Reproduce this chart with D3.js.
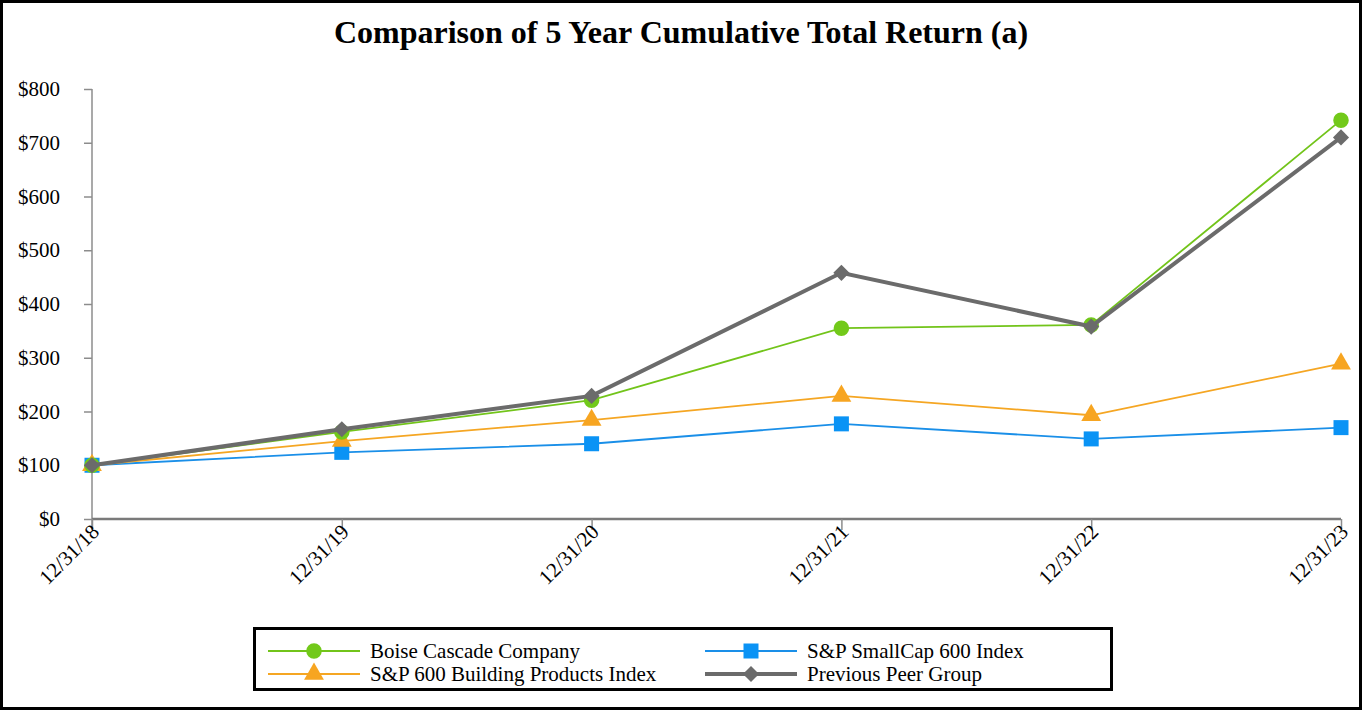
<!DOCTYPE html>
<html><head><meta charset="utf-8">
<script src="https://cdn.jsdelivr.net/npm/d3@7"></script>
<style>body{margin:0;background:#fff}svg{display:block}text{font-family:"Liberation Serif","Times New Roman",serif}</style>
</head><body><svg id="c" width="1362" height="710"></svg>
<script>
const categories = ["12/31/18","12/31/19","12/31/20","12/31/21","12/31/22","12/31/23"];
const boise = [100,162,221,355,361,742];
const smallcap = [100,124,140,177,149,170];
const building = [100,145,184,229,193,289];
const peer = [100,167,229,458,358,710];
const yTicks = [0,100,200,300,400,500,600,700,800];
const seriesNames = ["Boise Cascade Company","S&P SmallCap 600 Index","S&P 600 Building Products Index","Previous Peer Group"];

const svg = d3.select("#c");
svg.append("rect").attr("x",1.5).attr("y",1.5).attr("width",1359).attr("height",707).attr("fill","none").attr("stroke","#000").attr("stroke-width",3);
svg.append("text").attr("x",681).attr("y",43).attr("text-anchor","middle").attr("font-size",32).attr("font-weight","bold").text("Comparison of 5 Year Cumulative Total Return (a)");

const x = d3.scalePoint().domain(categories).range([92,1341]);
const y = d3.scaleLinear().domain([0,800]).range([519,89]);

// y axis
const ya = svg.append("g").attr("transform","translate(92,0)").call(d3.axisLeft(y).tickValues(yTicks).tickSize(8).tickPadding(24).tickFormat(d=>"$"+d));
ya.select(".domain").attr("stroke","#8c8c8c").attr("stroke-width",1.5).attr("d","M0,89V530");
ya.selectAll(".tick line").attr("stroke","#8c8c8c").attr("stroke-width",1.5);
ya.selectAll(".tick text").attr("font-size",21).attr("fill","#000").attr("font-family","Liberation Serif").attr("dy","0.32em");

// x axis
const xa = svg.append("g").attr("transform","translate(0,519)").call(d3.axisBottom(x).tickSize(11).tickPadding(6));
xa.select(".domain").attr("stroke","#7a7a7a").attr("stroke-width",2.5).attr("d","M92,0H1341");
xa.selectAll(".tick line").attr("stroke","#8c8c8c").attr("stroke-width",1.5);
xa.selectAll(".tick text").attr("font-size",21).attr("fill","#000").attr("font-family","Liberation Serif")
  .attr("text-anchor","end").attr("dy","0").attr("transform","translate(8,14) rotate(-45)").attr("y",0).attr("x",0);

const diamond = d3.symbolSquare;
const series = [
  {name:seriesNames[1], vals:smallcap, color:"#1a8fe8", mcolor:"#0a93f5", w:1.8, shape:d3.symbolSquare, size:225, rot:0},
  {name:seriesNames[2], vals:building, color:"#f5a623", mcolor:"#f7a521", w:1.8, shape:d3.symbolTriangle, size:170, rot:0},
  {name:seriesNames[0], vals:boise, color:"#72c41a", mcolor:"#72c91a", w:1.8, shape:d3.symbolCircle, size:190, rot:0},
  {name:seriesNames[3], vals:peer, color:"#6b6b6b", mcolor:"#6b6b6b", w:4, shape:diamond, size:130, rot:45}
];
const line = d3.line().x((d,i)=>x(categories[i])).y(d=>y(d));
series.forEach(s=>{
  const g = svg.append("g");
  g.append("path").attr("d",line(s.vals)).attr("fill","none").attr("stroke",s.color).attr("stroke-width",s.w);
  g.selectAll("path.m").data(s.vals).enter().append("path").attr("class","m")
    .attr("d",d3.symbol().type(s.shape).size(s.size))
    .attr("transform",(d,i)=>`translate(${x(categories[i])},${y(d)}) rotate(${s.rot})`).attr("fill",s.mcolor);
});

// legend
const lg = svg.append("g");
lg.append("rect").attr("x",254.5).attr("y",628.5).attr("width",857).attr("height",61).attr("fill","#fff").attr("stroke","#000").attr("stroke-width",3);
const legendItems = [
  {s:series[2], x:268, y:651},
  {s:series[0], x:705, y:651},
  {s:series[1], x:268, y:674},
  {s:series[3], x:705, y:674}
];
legendItems.forEach(it=>{
  const s=it.s;
  lg.append("line").attr("x1",it.x).attr("x2",it.x+92).attr("y1",it.y).attr("y2",it.y).attr("stroke",s.color).attr("stroke-width",s.w);
  lg.append("path").attr("d",d3.symbol().type(s.shape).size(s.size)).attr("transform",`translate(${it.x+46},${it.y}) rotate(${s.rot})`).attr("fill",s.mcolor);
  lg.append("text").attr("x",it.x+102).attr("y",it.y).attr("dy","0.35em").attr("font-size",21).text(s.name);
});
</script></body></html>
